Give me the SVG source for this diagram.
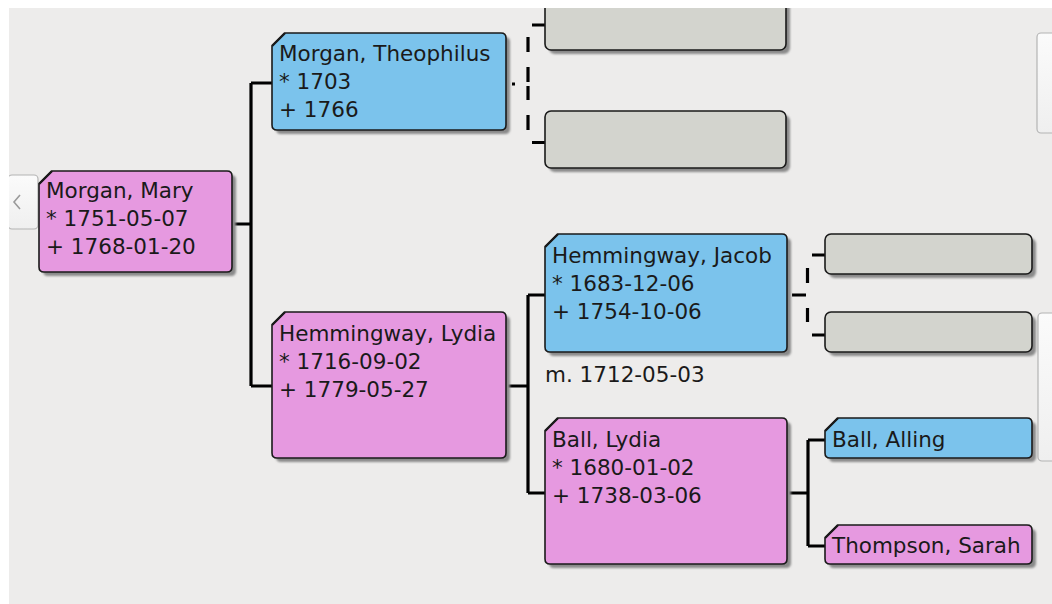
<svg xmlns="http://www.w3.org/2000/svg" width="1052" height="604" viewBox="0 0 1052 604">
<style>
.bg{fill:#edeceb}
.male{fill:#7bc3ec;stroke:#1a1a1a;stroke-width:1.6}
.female{fill:#e699e0;stroke:#1a1a1a;stroke-width:1.6}
.empty{fill:#d3d4ce;stroke:#1a1a1a;stroke-width:1.6}
.shadow{fill:#8a8a8a;filter:url(#blur)}
.corner{stroke:#1a1a1a;stroke-width:2.4;fill:none}
.t{font-family:"DejaVu Sans","Liberation Sans",sans-serif;font-size:21.5px;fill:#1a1a1a}
.line{stroke:#000;stroke-width:3.2;fill:none}
.btn{fill:url(#btngrad);stroke:#b4b4b4;stroke-width:1.2}
</style>
<defs>
<filter id="blur" x="-10%" y="-10%" width="120%" height="120%"><feGaussianBlur stdDeviation="1"/></filter>
<linearGradient id="btngrad" x1="0" y1="0" x2="0" y2="1"><stop offset="0" stop-color="#fbfbfb"/><stop offset="1" stop-color="#efefef"/></linearGradient>
</defs>
<rect x="0" y="0" width="1052" height="604" fill="#ffffff"/>
<rect class="bg" x="9" y="8" width="1043" height="596"/>

<g id="nav-left">
<rect class="btn" x="8" y="175" width="30" height="54" rx="4"/>
<polyline points="20,195 14,202 20,209" fill="none" stroke="#9a9a9a" stroke-width="1.6"/>
</g>
<g id="nav-right-top"><rect class="btn" x="1037" y="33" width="30" height="100" rx="4"/></g>
<g id="nav-right-bottom"><rect class="btn" x="1038" y="313" width="30" height="148" rx="4"/></g>

<g id="connectors">
<path class="line" d="M232 224 H251 M251 83 V386 M251 83 H272 M251 386 H272"/>
<path class="line" d="M506 386 H528 M528 295 V493 M528 295 H545 M528 493 H545"/>
<path class="line" d="M787 493 H808 M808 440 V546 M808 440 H825 M808 546 H825"/>
<path class="line" d="M512 84 H515 M528 37 V52 M528 67 V82 M528 86 V100 M528 115 V130 M532 25 H545 M532 142.5 H545"/>
<path class="line" d="M792 295 H806 M807.5 268 V283 M807.5 308 V322 M812 255 H825 M812 335 H825"/>
</g>

<g id="n-morgan-mary">
<path class="shadow" transform="translate(4,4)" d="M52 171 H227 Q232 171 232 176 V267 Q232 272 227 272 H44 Q39 272 39 267 V184 Z"/>
<path class="female" d="M52 171 H227 Q232 171 232 176 V267 Q232 272 227 272 H44 Q39 272 39 267 V184 Z"/>
<path class="corner" d="M39 184 L52 171"/>
<text class="t" x="46" y="198">Morgan, Mary</text>
<text class="t" x="46" y="226">* 1751-05-07</text>
<text class="t" x="46" y="254">+ 1768-01-20</text>
</g>

<g id="n-morgan-theophilus">
<path class="shadow" transform="translate(4,4)" d="M285 33 H501 Q506 33 506 38 V125 Q506 130 501 130 H277 Q272 130 272 125 V46 Z"/>
<path class="male" d="M285 33 H501 Q506 33 506 38 V125 Q506 130 501 130 H277 Q272 130 272 125 V46 Z"/>
<path class="corner" d="M272 46 L285 33"/>
<text class="t" x="279" y="61">Morgan, Theophilus</text>
<text class="t" x="279" y="89">* 1703</text>
<text class="t" x="279" y="117">+ 1766</text>
</g>

<g id="n-hemmingway-lydia">
<path class="shadow" transform="translate(4,4)" d="M285 312 H501 Q506 312 506 317 V453 Q506 458 501 458 H277 Q272 458 272 453 V325 Z"/>
<path class="female" d="M285 312 H501 Q506 312 506 317 V453 Q506 458 501 458 H277 Q272 458 272 453 V325 Z"/>
<path class="corner" d="M272 325 L285 312"/>
<text class="t" x="279" y="341">Hemmingway, Lydia</text>
<text class="t" x="279" y="369">* 1716-09-02</text>
<text class="t" x="279" y="397">+ 1779-05-27</text>
</g>

<g id="n-empty-1">
<rect class="shadow" x="549" y="-3" width="241" height="57" rx="6"/>
<rect class="empty" x="545" y="-7" width="241" height="57" rx="6"/>
</g>
<g id="n-empty-2">
<rect class="shadow" x="549" y="115" width="241" height="57" rx="6"/>
<rect class="empty" x="545" y="111" width="241" height="57" rx="6"/>
</g>

<g id="n-hemmingway-jacob">
<path class="shadow" transform="translate(4,4)" d="M558 234 H782 Q787 234 787 239 V347 Q787 352 782 352 H550 Q545 352 545 347 V247 Z"/>
<path class="male" d="M558 234 H782 Q787 234 787 239 V347 Q787 352 782 352 H550 Q545 352 545 347 V247 Z"/>
<path class="corner" d="M545 247 L558 234"/>
<text class="t" x="552" y="263">Hemmingway, Jacob</text>
<text class="t" x="552" y="291">* 1683-12-06</text>
<text class="t" x="552" y="319">+ 1754-10-06</text>
</g>

<g id="marriage-label">
<text class="t" x="545" y="382">m. 1712-05-03</text>
</g>

<g id="n-ball-lydia">
<path class="shadow" transform="translate(4,4)" d="M558 418 H782 Q787 418 787 423 V559 Q787 564 782 564 H550 Q545 564 545 559 V431 Z"/>
<path class="female" d="M558 418 H782 Q787 418 787 423 V559 Q787 564 782 564 H550 Q545 564 545 559 V431 Z"/>
<path class="corner" d="M545 431 L558 418"/>
<text class="t" x="552" y="447">Ball, Lydia</text>
<text class="t" x="552" y="475">* 1680-01-02</text>
<text class="t" x="552" y="503">+ 1738-03-06</text>
</g>

<g id="n-empty-3">
<rect class="shadow" x="829" y="238" width="207" height="40" rx="6"/>
<rect class="empty" x="825" y="234" width="207" height="40" rx="6"/>
</g>
<g id="n-empty-4">
<rect class="shadow" x="829" y="316" width="207" height="40" rx="6"/>
<rect class="empty" x="825" y="312" width="207" height="40" rx="6"/>
</g>

<g id="n-ball-alling">
<path class="shadow" transform="translate(4,4)" d="M838 418 H1027 Q1032 418 1032 423 V453 Q1032 458 1027 458 H830 Q825 458 825 453 V431 Z"/>
<path class="male" d="M838 418 H1027 Q1032 418 1032 423 V453 Q1032 458 1027 458 H830 Q825 458 825 453 V431 Z"/>
<path class="corner" d="M825 431 L838 418"/>
<text class="t" x="832" y="447">Ball, Alling</text>
</g>

<g id="n-thompson-sarah">
<path class="shadow" transform="translate(4,4)" d="M838 525 H1027 Q1032 525 1032 530 V559 Q1032 564 1027 564 H830 Q825 564 825 559 V538 Z"/>
<path class="female" d="M838 525 H1027 Q1032 525 1032 530 V559 Q1032 564 1027 564 H830 Q825 564 825 559 V538 Z"/>
<path class="corner" d="M825 538 L838 525"/>
<text class="t" x="832" y="553">Thompson, Sarah</text>
</g>

<rect x="0" y="0" width="1052" height="8" fill="#ffffff"/>
<rect x="0" y="0" width="9" height="604" fill="#ffffff"/>
</svg>
